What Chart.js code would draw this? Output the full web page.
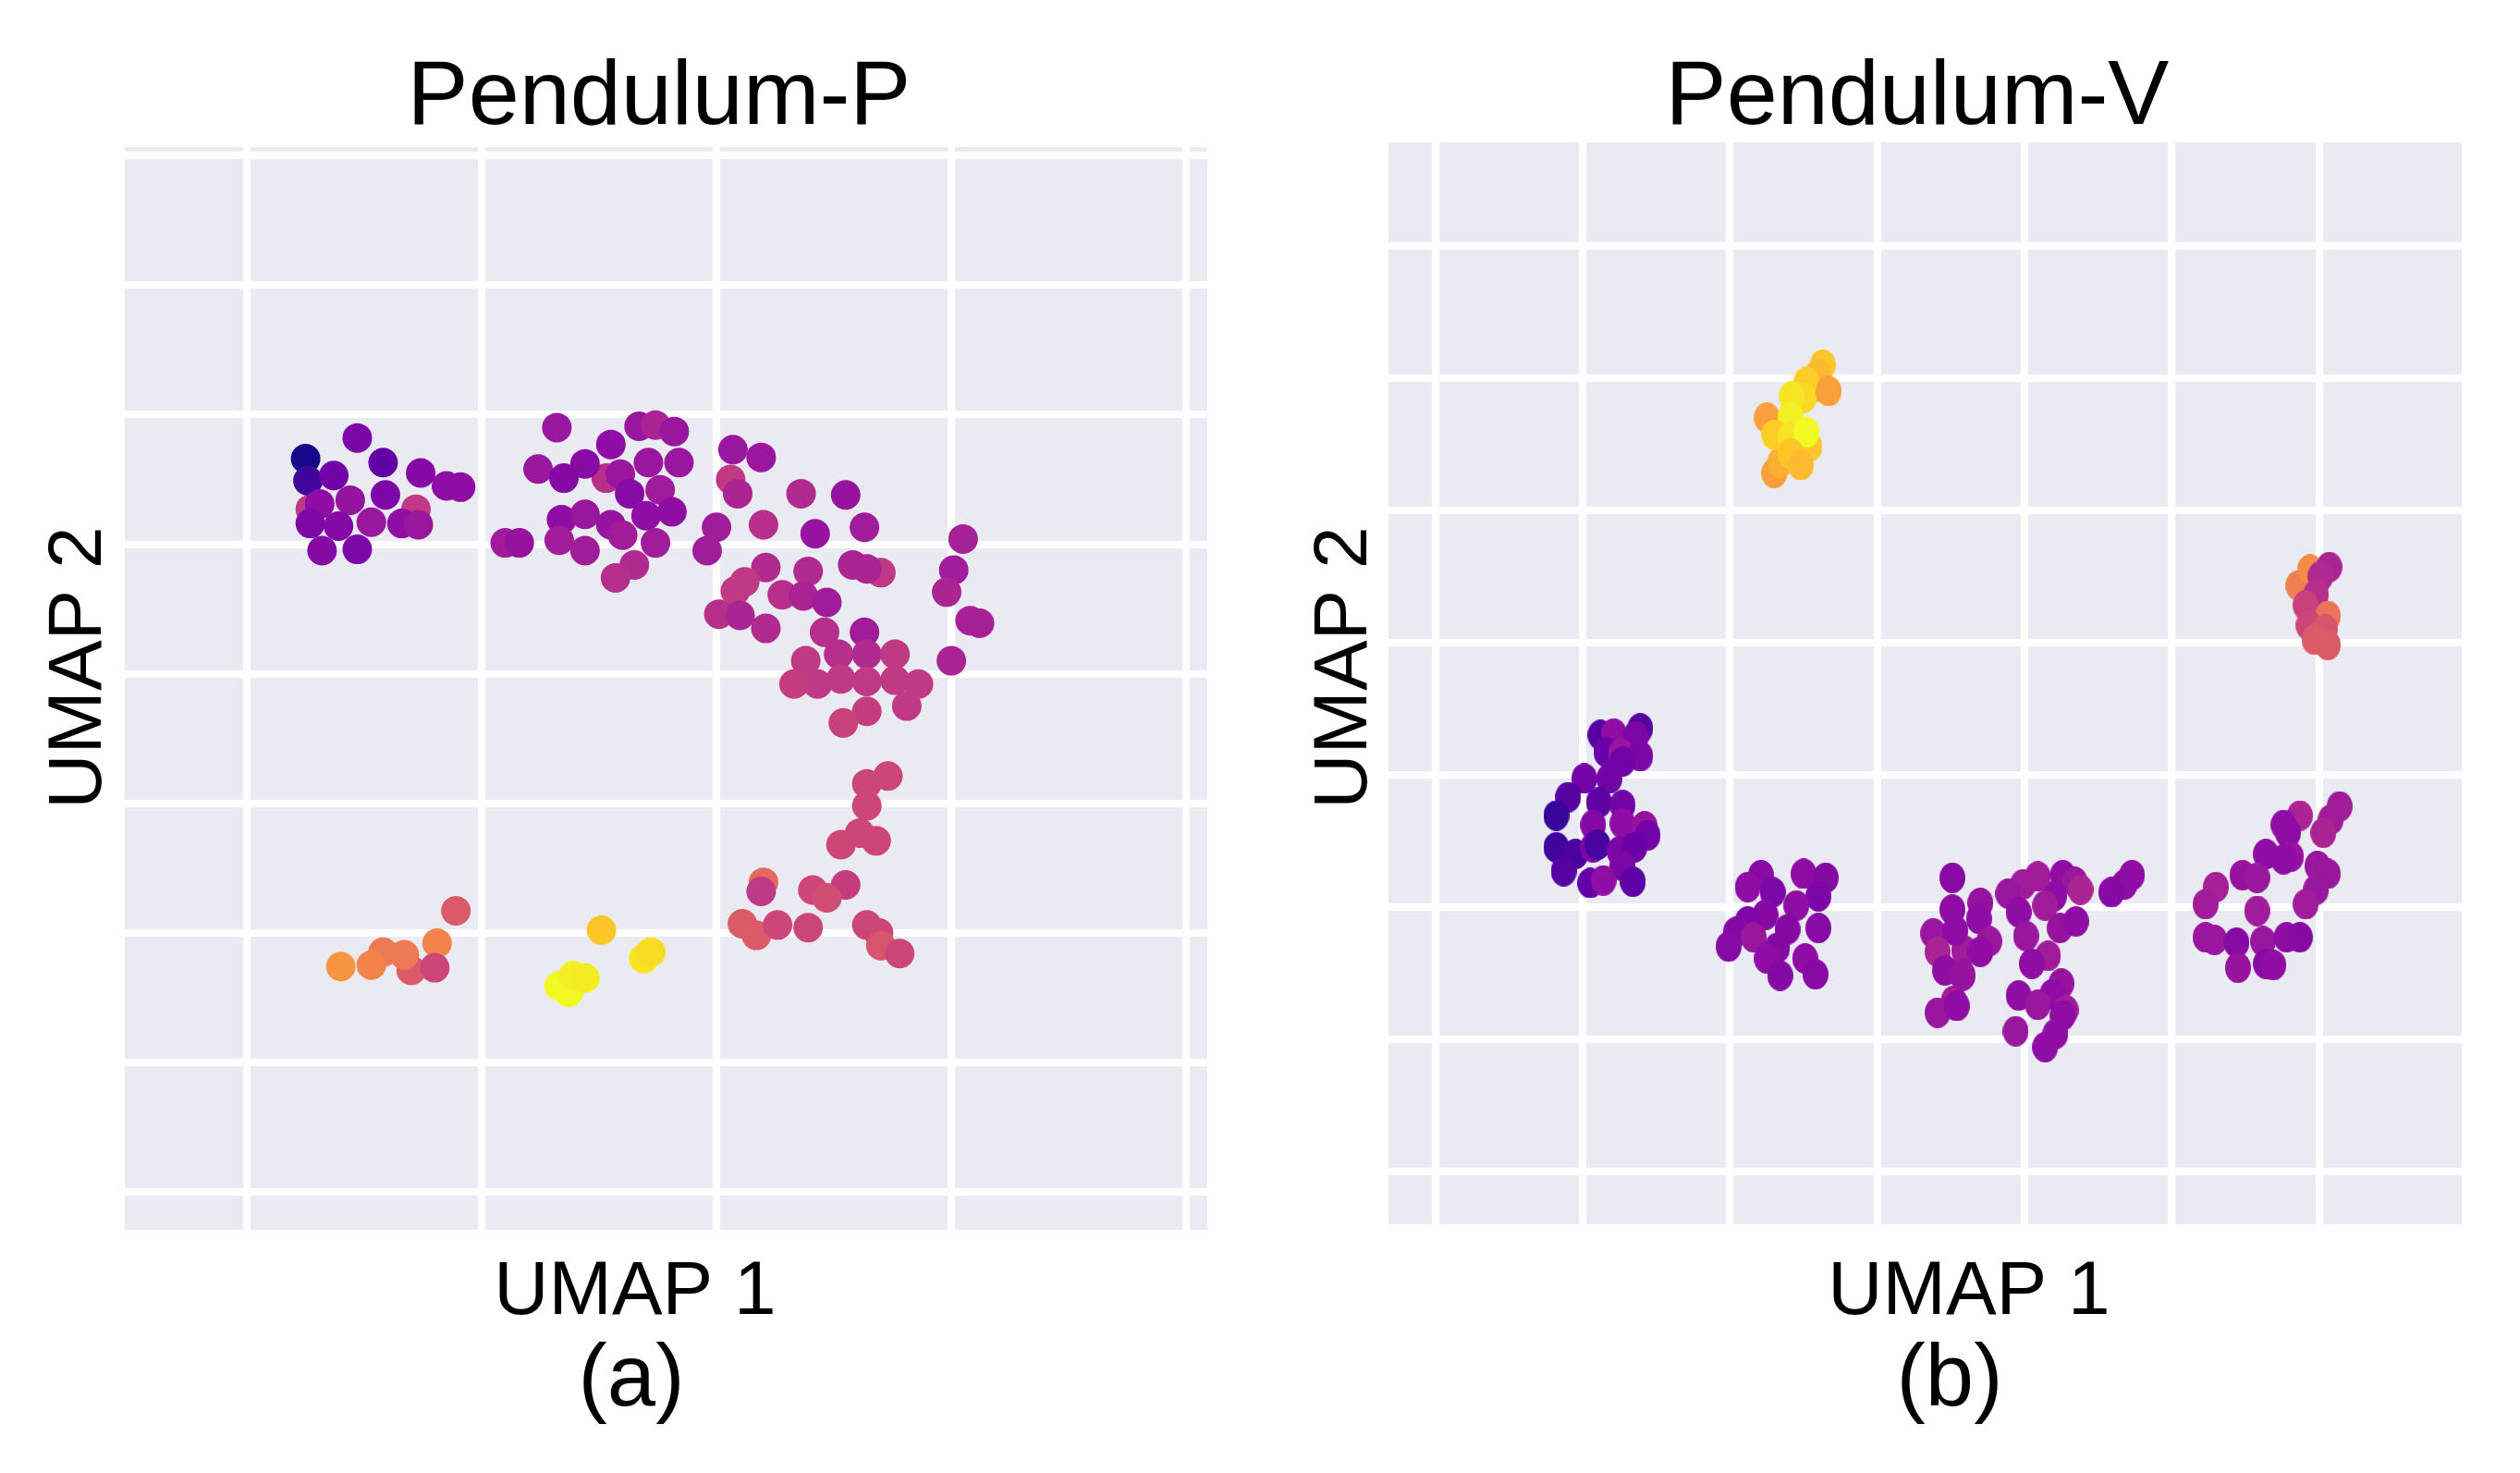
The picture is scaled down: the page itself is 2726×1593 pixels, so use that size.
<!DOCTYPE html>
<html>
<head>
<meta charset="utf-8">
<title>UMAP Pendulum</title>
<script src="https://cdn.jsdelivr.net/npm/chart.js@4.4.1/dist/chart.umd.min.js"></script>
<style>
  body { margin: 0; background: #ffffff; }
  #wrap { position: relative; width: 2726px; height: 1593px; }
  canvas { position: absolute; top: 0; }
</style>
</head>
<body>
<div id="wrap">
  <canvas id="chartA" width="1400" height="1593" style="left:0"></canvas>
  <canvas id="chartB" width="1326" height="1593" style="left:1400px"></canvas>
</div>
<script>
// Panel (a) Pendulum-P : UMAP 1, UMAP 2 y valor de color (0..1, plasma)
const aX = [0.27, 0.72, 0.25, 0.26, 0.47, 0.58, 0.37, 0.74, 0.85, 0.91, 0.31, 0.44, 0.59,
  0.27, 0.39, 0.53, 0.66, 0.73, 0.32, 0.47,
  1.53, 1.32, 1.55, 1.67, 1.74, 1.82, 1.24, 1.44, 1.35, 1.59, 1.71, 1.84, 1.63, 1.76, 1.81,
  1.70, 1.34, 1.44, 1.55, 1.60, 1.33, 1.44, 1.74, 1.10, 1.16, 1.65, 1.57,
  2.06, 2.07, 2.19, 2.09, 2.36, 2.55, 2.00, 2.20, 2.42, 2.63, 3.05, 1.96, 2.21, 2.39, 2.58,
  2.70, 2.64, 3.01, 2.12, 2.08, 2.01, 2.10, 2.21, 2.28, 2.37, 2.47, 2.98, 3.08, 3.12, 2.46,
  2.63, 2.38, 2.52, 2.64, 2.76, 3.00, 2.33, 2.43, 2.53, 2.64, 2.76, 2.86, 2.64, 2.54, 2.81,
  2.73, 2.64, 2.64, 2.61, 2.53, 2.68, 2.20, 2.19, 2.41, 2.55, 2.47, 2.11, 2.17, 2.26, 2.39,
  2.64, 2.69, 2.70, 2.78,
  0.89, 0.81, 0.58, 0.70, 0.80, 0.67, 0.53, 0.40,
  1.51, 1.69, 1.72, 1.33, 1.37, 1.39, 1.44];
const aY = [5.27, 5.27, 5.66, 5.49, 5.82, 5.63, 5.53, 5.55, 5.45, 5.44, 5.31, 5.34, 5.38,
  5.16, 5.14, 5.17, 5.16, 5.15, 4.95, 4.96,
  5.51, 5.90, 5.77, 5.91, 5.92, 5.87, 5.58, 5.62, 5.51, 5.54, 5.63, 5.63, 5.39, 5.42, 5.25,
  5.22, 5.19, 5.23, 5.15, 5.07, 5.03, 4.95, 5.01, 5.01, 5.01, 4.84, 4.74,
  5.50, 5.73, 5.67, 5.39, 5.39, 5.38, 5.13, 5.15, 5.08, 5.13, 5.04, 4.95, 4.82, 4.79, 4.84,
  4.78, 4.81, 4.80, 4.71, 4.64, 4.46, 4.45, 4.35, 4.61, 4.60, 4.55, 4.63, 4.41, 4.39, 4.32,
  4.32, 4.10, 4.15, 4.15, 4.15, 4.10, 3.92, 3.92, 3.96, 3.94, 3.95, 3.92, 3.71, 3.62, 3.75,
  3.21, 3.15, 2.98, 2.77, 2.68, 2.71, 2.39, 2.32, 2.33, 2.37, 2.27, 2.07, 1.98, 2.06, 2.04,
  2.06, 2.00, 1.90, 1.84,
  2.17, 1.92, 1.85, 1.71, 1.73, 1.83, 1.75, 1.74,
  2.02, 1.80, 1.85, 1.59, 1.54, 1.67, 1.65];
const aC = [0.45, 0.45, 0.02, 0.10, 0.25, 0.18, 0.22, 0.27, 0.30, 0.30, 0.30, 0.32, 0.25,
  0.25, 0.27, 0.33, 0.30, 0.33, 0.27, 0.25,
  0.42, 0.33, 0.30, 0.33, 0.38, 0.33, 0.33, 0.28, 0.27, 0.33, 0.33, 0.33, 0.28, 0.35, 0.30,
  0.30, 0.30, 0.33, 0.32, 0.35, 0.35, 0.35, 0.35, 0.35, 0.32, 0.40, 0.42,
  0.45, 0.33, 0.33, 0.38, 0.40, 0.32, 0.35, 0.42, 0.32, 0.35, 0.37, 0.35, 0.40, 0.40, 0.38,
  0.45, 0.38, 0.35, 0.45, 0.45, 0.42, 0.38, 0.40, 0.42, 0.38, 0.35, 0.38, 0.37, 0.37, 0.42,
  0.35, 0.45, 0.42, 0.40, 0.45, 0.38, 0.47, 0.45, 0.45, 0.45, 0.45, 0.45, 0.47, 0.48, 0.45,
  0.50, 0.50, 0.50, 0.50, 0.50, 0.50, 0.62, 0.45, 0.50, 0.47, 0.52, 0.57, 0.57, 0.50, 0.50,
  0.50, 0.50, 0.55, 0.50,
  0.57, 0.70, 0.67, 0.57, 0.50, 0.67, 0.70, 0.75,
  0.88, 0.95, 0.93, 1.00, 1.00, 0.98, 0.97];

// Panel (b) Pendulum-V
const bX = [2.25, 2.30, 2.34, 2.63, 2.60, 2.58, 2.52, 2.50, 2.42, 2.41, 2.30, 2.41, 2.54,
  2.52, 2.41, 2.48, 2.67,
  5.86, 5.94, 6.07, 6.01, 5.98, 5.91, 6.06, 5.93, 6.04, 5.97, 6.06,
  6.14, 6.08, 6.03, 5.87, 5.76, 5.79, 5.64, 5.81, 5.76, 5.99, 6.06, 5.98, 5.91, 5.48, 5.58,
  5.30, 5.23, 5.58, 5.23, 5.29, 5.44, 5.62, 5.78, 5.87, 5.45, 5.64, 5.69,
  4.73, 4.68, 4.59, 4.26, 4.34, 4.38, 4.20, 4.09, 3.99, 3.89, 3.96, 4.14, 4.24, 4.35, 4.01,
  4.16, 4.05, 4.25, 4.19, 3.96, 4.09, 4.28, 3.70, 3.69, 3.76, 3.59, 3.70, 3.57, 3.52, 3.51,
  3.51, 3.38, 3.53, 3.41, 3.46, 3.58, 4.26, 3.94, 4.21, 4.14, 3.41, 3.54,
  2.21, 2.12, 2.29, 2.50, 2.65, 2.60, 2.45, 2.24, 2.60, 2.39, 2.12, 2.04, 2.16, 1.99, 2.32,
  2.25, 2.51, 2.34, 2.58,
  1.12, 1.21, 1.39, 1.36, 1.16, 1.26, 1.39, 1.27, 1.01, 1.18, 0.90, 0.82, 1.11, 1.27, 1.07,
  1.27, 1.42, 1.44, 0.82, 0.95, 1.07, 1.10, 1.25, 1.35, 0.87, 1.27, 1.05, 1.14, 1.34];
const bY = [5.70, 5.28, 5.36, 6.10, 6.03, 5.93, 5.97, 5.85, 5.86, 5.71, 5.57, 5.55, 5.48,
  5.59, 5.43, 5.34, 5.90,
  4.43, 4.55, 4.57, 4.50, 4.36, 4.28, 4.20, 4.13, 4.10, 4.02, 3.98,
  2.76, 2.66, 2.56, 2.69, 2.62, 2.56, 2.40, 2.38, 2.36, 2.31, 2.25, 2.13, 2.02, 2.24, 2.22,
  2.15, 2.02, 1.97, 1.77, 1.75, 1.73, 1.74, 1.77, 1.77, 1.54, 1.57, 1.56,
  2.24, 2.17, 2.11, 2.24, 2.19, 2.13, 2.08, 2.23, 2.17, 2.10, 1.96, 2.01, 1.84, 1.89, 1.78,
  1.63, 1.57, 1.42, 1.34, 1.33, 1.26, 1.22, 2.03, 1.91, 1.74, 1.67, 1.66, 1.50, 1.29, 2.22,
  1.98, 1.80, 1.82, 1.66, 1.52, 1.48, 1.18, 1.06, 1.04, 0.94, 1.20, 1.25,
  2.24, 2.15, 2.11, 2.25, 2.22, 2.08, 2.01, 1.94, 1.84, 1.83, 1.89, 1.81, 1.77, 1.70, 1.69,
  1.61, 1.61, 1.48, 1.49,
  3.30, 3.31, 3.35, 3.29, 3.17, 3.16, 3.14, 3.10, 2.97, 2.97, 2.83, 2.69, 2.79, 2.77, 2.62,
  2.63, 2.61, 2.54, 2.45, 2.40, 2.45, 2.47, 2.42, 2.45, 2.27, 2.31, 2.18, 2.20, 2.19];
const bC = [0.78, 0.78, 0.82, 0.88, 0.85, 0.83, 0.90, 0.92, 0.95, 0.98, 0.90, 0.95, 0.88,
  1.00, 0.88, 0.85, 0.78,
  0.68, 0.72, 0.38, 0.40, 0.42, 0.48, 0.65, 0.50, 0.55, 0.57, 0.57,
  0.35, 0.35, 0.38, 0.38, 0.30, 0.30, 0.30, 0.32, 0.30, 0.33, 0.33, 0.33, 0.35, 0.32, 0.33,
  0.37, 0.35, 0.35, 0.33, 0.33, 0.28, 0.33, 0.30, 0.28, 0.32, 0.28, 0.30,
  0.30, 0.30, 0.28, 0.30, 0.33, 0.38, 0.30, 0.35, 0.35, 0.33, 0.30, 0.35, 0.32, 0.30, 0.33,
  0.35, 0.30, 0.32, 0.30, 0.30, 0.33, 0.35, 0.32, 0.30, 0.33, 0.35, 0.30, 0.33, 0.35, 0.28,
  0.30, 0.33, 0.30, 0.38, 0.30, 0.32, 0.30, 0.33, 0.30, 0.30, 0.33, 0.30,
  0.28, 0.30, 0.25, 0.30, 0.27, 0.25, 0.30, 0.27, 0.28, 0.27, 0.25, 0.27, 0.33, 0.28, 0.27,
  0.30, 0.30, 0.27, 0.28,
  0.15, 0.30, 0.15, 0.25, 0.20, 0.33, 0.25, 0.22, 0.22, 0.22, 0.15, 0.08, 0.17, 0.22, 0.27,
  0.30, 0.32, 0.22, 0.10, 0.13, 0.25, 0.12, 0.25, 0.20, 0.15, 0.25, 0.18, 0.30, 0.17];

// Mapa de color plasma (11 paradas)
const plasmaStops = [[13, 8, 135], [65, 4, 157], [106, 0, 168], [143, 13, 164], [177, 42, 144],
  [204, 71, 120], [225, 100, 98], [242, 132, 75], [252, 166, 54], [252, 206, 37], [240, 249, 33]];

function plasma(t) {
  const p = Math.min(Math.max(t, 0), 1) * 10;
  const i = Math.min(Math.floor(p), 9);
  const f = p - i;
  const c = plasmaStops[i].map((v, k) => Math.round(v + (plasmaStops[i + 1][k] - v) * f));
  return `rgb(${c[0]}, ${c[1]}, ${c[2]})`;
}

// Marcador ovalado (panel b): un pequeño canvas por color
function ovalMarker(color, rx, ry) {
  const c = document.createElement('canvas');
  c.width = Math.ceil(rx * 2);
  c.height = Math.ceil(ry * 2);
  const g = c.getContext('2d');
  g.fillStyle = color;
  g.beginPath();
  g.ellipse(c.width / 2, c.height / 2, rx, ry, 0, 0, Math.PI * 2);
  g.fill();
  return c;
}

// Fondo gris del área del gráfico
const plotBackground = {
  id: 'plotBackground',
  beforeDraw(chart) {
    const { ctx, chartArea: a } = chart;
    ctx.save();
    ctx.fillStyle = '#eaeaf2';
    ctx.fillRect(a.left, a.top, a.right - a.left, a.bottom - a.top);
    ctx.restore();
  }
};

// Títulos y etiquetas
const panelText = {
  id: 'panelText',
  afterDraw(chart, args, opts) {
    const ctx = chart.ctx;
    opts.items.forEach(t => {
      ctx.save();
      ctx.fillStyle = '#000000';
      ctx.textAlign = 'center';
      ctx.textBaseline = 'alphabetic';
      ctx.font = t.size + 'px "Liberation Sans", Arial, sans-serif';
      ctx.translate(t.x, t.y);
      if (t.rotate) ctx.rotate(-Math.PI / 2);
      ctx.fillText(t.text, 0, 0);
      ctx.restore();
    });
  }
};

function axis(min, max) {
  return {
    type: 'linear',
    min: min,
    max: max,
    border: { display: false },
    grid: { color: '#ffffff', lineWidth: 8, drawTicks: false },
    ticks: { display: false, stepSize: 1, includeBounds: false }
  };
}

function makeChart(id, xs, ys, cs, marker, range, padding, texts) {
  const colors = cs.map(plasma);
  const dataset = {
    data: xs.map((x, i) => ({ x: x, y: ys[i] })),
    pointBackgroundColor: colors,
    pointBorderWidth: 0,
    pointRadius: marker.r,
    pointHoverRadius: marker.r
  };
  if (marker.oval) {
    dataset.pointStyle = colors.map(c => ovalMarker(c, marker.oval[0], marker.oval[1]));
  }
  return new Chart(document.getElementById(id), {
    type: 'scatter',
    data: { datasets: [dataset] },
    options: {
      responsive: false,
      animation: false,
      layout: { padding: padding },
      scales: {
        x: axis(range[0], range[1]),
        y: axis(range[2], range[3])
      },
      plugins: {
        legend: { display: false },
        tooltip: { enabled: false },
        panelText: { items: texts }
      }
    },
    plugins: [plotBackground, panelText]
  });
}

makeChart('chartA', aX, aY, aC, { r: 16 }, [-0.52, 4.09, -0.293, 8.066],
  { left: 135, right: 94, top: 159, bottom: 263 },
  [
    { text: 'Pendulum-P', x: 713, y: 134, size: 99 },
    { text: 'UMAP 1', x: 687, y: 1421, size: 82 },
    { text: '(a)', x: 683, y: 1520, size: 94 },
    { text: 'UMAP 2', x: 109, y: 722, size: 82, rotate: true }
  ]);

makeChart('chartB', bX, bY, bC, { r: 15, oval: [14, 16.5] }, [-0.32, 6.97, -0.40, 7.78],
  { left: 102, right: 63, top: 154, bottom: 269 },
  [
    { text: 'Pendulum-V', x: 674, y: 134, size: 99 },
    { text: 'UMAP 1', x: 730, y: 1421, size: 82 },
    { text: '(b)', x: 709, y: 1520, size: 94 },
    { text: 'UMAP 2', x: 78, y: 722, size: 82, rotate: true }
  ]);
</script>
</body>
</html>
